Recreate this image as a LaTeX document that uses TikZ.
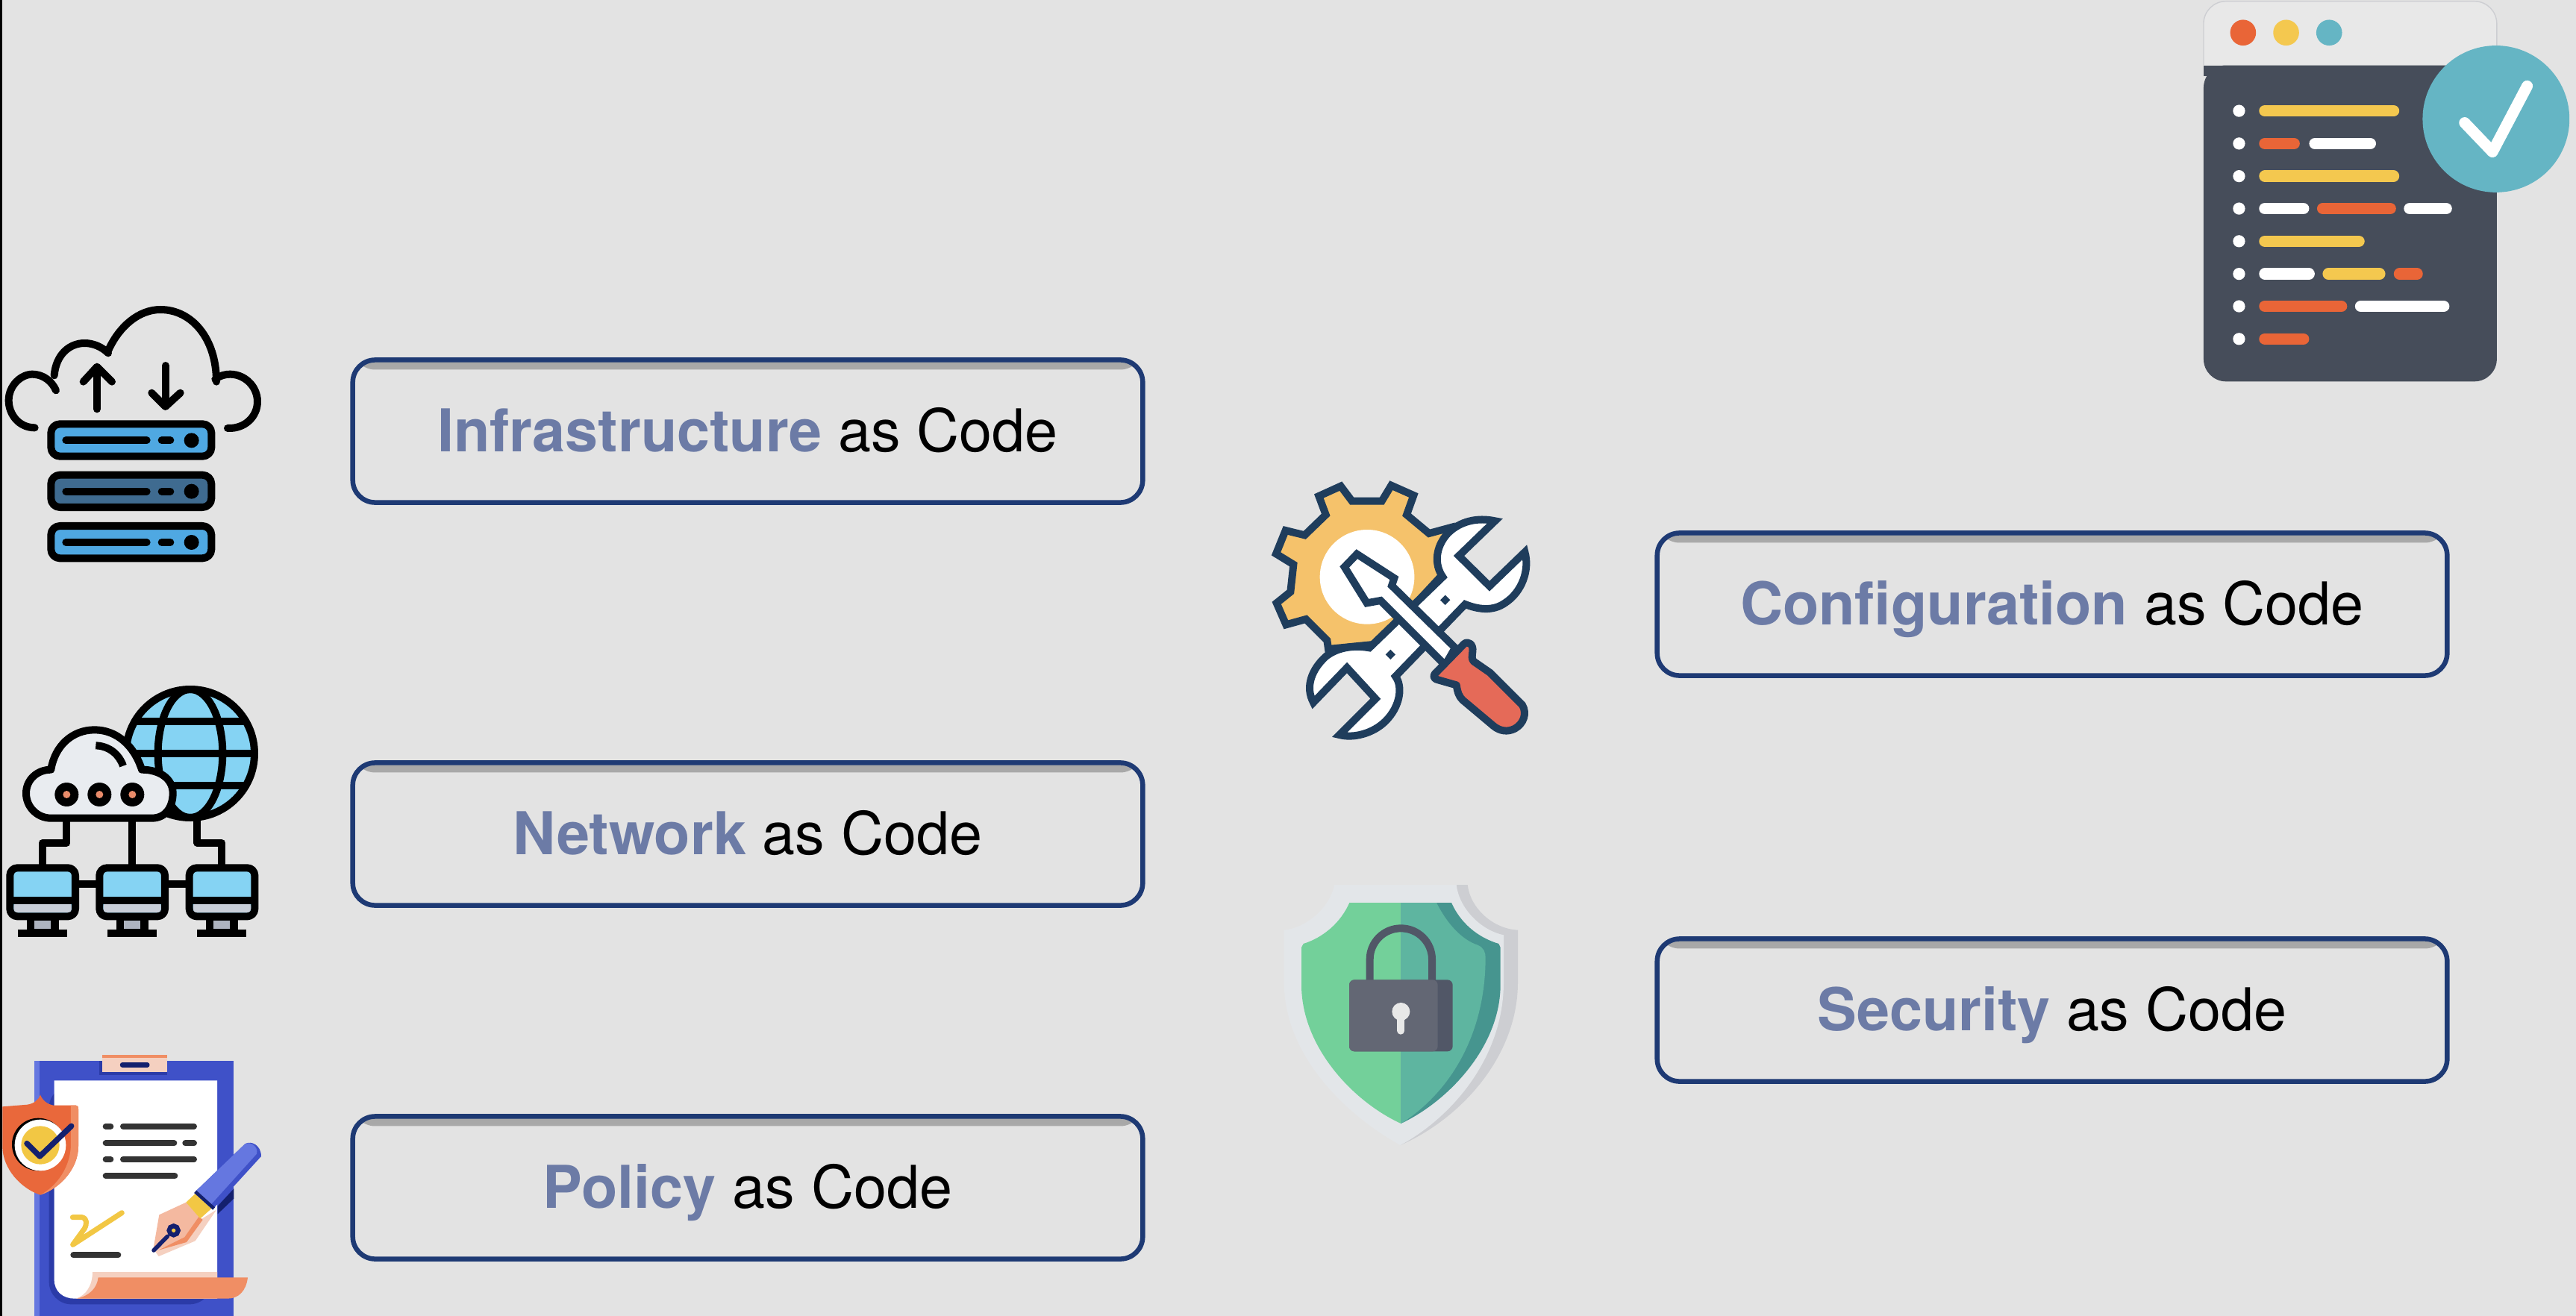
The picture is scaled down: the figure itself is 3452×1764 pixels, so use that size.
\documentclass[tikz,border=0pt]{standalone}
\usepackage{fontspec}
\setmainfont{TeX Gyre Heros}
\definecolor{bgcol}{HTML}{E3E3E3}
\definecolor{boxline}{HTML}{1E3A74}
\definecolor{wordblue}{HTML}{6C7BA6}
\definecolor{srvblue}{HTML}{4FA8E2}
\definecolor{srvdark}{HTML}{3F6B90}
\definecolor{skyblue}{HTML}{85D3F3}
\definecolor{cloudgrey}{HTML}{E9ECF0}
\definecolor{dotorange}{HTML}{E98B6A}
\definecolor{standgrey}{HTML}{AEB4C0}
\definecolor{basegrey}{HTML}{C9CED8}
\definecolor{boardblue}{HTML}{3F51C8}
\definecolor{boardlight}{HTML}{6577E0}
\definecolor{boarddark}{HTML}{2B3BA8}
\definecolor{peach}{HTML}{F5D0C0}
\definecolor{nibpeach}{HTML}{F4B9A0}
\definecolor{sheetorange}{HTML}{F08E64}
\definecolor{navy}{HTML}{14206E}
\definecolor{inkgrey}{HTML}{333333}
\definecolor{signyellow}{HTML}{F2C744}
\definecolor{shieldorange}{HTML}{E9683B}
\definecolor{gearline}{HTML}{1F3D5C}
\definecolor{gearyellow}{HTML}{F5C26B}
\definecolor{handlered}{HTML}{E56A58}
\definecolor{guardpale}{HTML}{E3E6E9}
\definecolor{guardshade}{HTML}{CDCED2}
\definecolor{guardgreen}{HTML}{73D09A}
\definecolor{guardteal}{HTML}{5EB5A0}
\definecolor{guarddark}{HTML}{46958F}
\definecolor{lockdark}{HTML}{515767}
\definecolor{locklight}{HTML}{636774}
\definecolor{winslate}{HTML}{464D5A}
\definecolor{winpale}{HTML}{E8E8E8}
\definecolor{winorange}{HTML}{E96537}
\definecolor{winyellow}{HTML}{F4C84F}
\definecolor{winteal}{HTML}{65B5C4}

\begin{document}
\begin{tikzpicture}[
  x=0.01cm, y=-0.01cm,
  codebox/.style={draw=boxline, line width=0.65mm, rounded corners=0.3cm, minimum width=10.58cm, minimum height=1.91cm,
    text height=0.58cm, text depth=0.04cm, inner sep=0pt, font=\fontsize{22.5}{27}\selectfont,
    path picture={\shade[top color=black!35, bottom color=bgcol] (path picture bounding box.north west) rectangle ([yshift=-0.13cm]path picture bounding box.north east);}},
  blackline/.style={draw=black, line width=1mm, line cap=round, line join=round},
  gearstroke/.style={draw=gearline, line width=1mm, line join=miter},
  barline/.style={line width=1.56mm, line cap=round},
]

% Background
\useasboundingbox (0,0) rectangle (3452,1764);
\fill[bgcol] (0,0) rectangle (3452,1764);
\fill[black] (0,0) rectangle (2.5,1764);

% Left column
\node[codebox] (infra)  at (1002,578)  {\textcolor{wordblue}{\textbf{Infrastructure}} as Code};
\node[codebox] (net)    at (1002,1118) {\textcolor{wordblue}{\textbf{Network}} as Code};
\node[codebox] (policy) at (1002,1592) {\textcolor{wordblue}{\textbf{Policy}} as Code};

% Right column
\node[codebox] (config) at (2750,810)  {\textcolor{wordblue}{\textbf{Configuration}} as Code};
\node[codebox] (secur)  at (2750,1354) {\textcolor{wordblue}{\textbf{Security}} as Code};

% Cloud with servers
\begin{scope}[shift={(0,380)}, scale=1/3]
  \draw[blackline] (140,580) .. controls (75,580) and (35,525) .. (35,470)
    .. controls (35,410) and (85,365) .. (130,365) .. controls (175,365) and (210,395) .. (225,430);
  \draw[blackline] (218,370) .. controls (225,285) and (280,240) .. (340,240) .. controls (375,240) and (410,255) .. (435,280);
  \draw[blackline] (435,270) .. controls (480,170) and (560,105) .. (645,105)
    .. controls (770,105) and (870,220) .. (870,395);
  \draw[blackline] (865,385) .. controls (885,370) and (905,365) .. (925,365)
    .. controls (985,365) and (1035,415) .. (1035,475) .. controls (1035,535) and (985,585) .. (915,582);
  \draw[blackline] (390,350) -- (390,505);
  \draw[blackline] (335,395) -- (390,335) -- (450,395);
  \draw[blackline] (665,330) -- (665,490);
  \draw[blackline] (610,440) -- (665,495) -- (725,440);
  \foreach \top/\col in {565/srvblue, 770/srvdark, 975/srvblue} {
    \draw[blackline, fill=\col, rounded corners=0.12cm] (205,\top) rectangle (850,\top+130);
    \draw[blackline] (265,\top+66) -- (590,\top+66);
    \draw[blackline] (650,\top+66) -- (685,\top+66);
    \fill[black] (770,\top+66) circle (30);
  }
\end{scope}

% Globe with cloud and monitors
\begin{scope}[shift={(0,900)}, scale=1/3]
  \draw[blackline, fill=skyblue] (765,330) circle (258);
  \draw[blackline] (765,330) ellipse (130 and 258);
  \draw[blackline, line cap=butt] (545,200) -- (985,200) (510,330) -- (1020,330) (545,460) -- (985,460);
  \draw[blackline] (268,600) -- (268,690) -- (170,690) -- (170,780);
  \draw[blackline] (530,600) -- (530,780);
  \draw[blackline] (793,600) -- (793,690) -- (892,690) -- (892,780);
  \draw[blackline, fill=cloudgrey] (205,590) -- (610,590) .. controls (670,590) and (695,540) .. (695,490)
    .. controls (695,430) and (640,395) .. (570,395) .. controls (540,300) and (470,235) .. (380,235)
    .. controls (290,235) and (220,300) .. (205,395) .. controls (150,395) and (105,435) .. (105,490)
    .. controls (105,545) and (150,590) .. (205,590) -- cycle;
  \draw[blackline, line cap=butt] (385,298) .. controls (440,300) and (480,335) .. (495,380);
  \foreach \dx in {268,400,532} {
    \fill[black] (\dx,495) circle (48);
    \fill[dotorange] (\dx,495) circle (15);
  }
  \draw[blackline] (303,855) -- (400,855) (663,855) -- (760,855);
  \foreach \dx in {0,360,721} {
    \begin{scope}[shift={(\dx,0)}]
      \fill[black] (108,990) rectangle (236,1040);
      \fill[standgrey] (138,1002) rectangle (204,1036);
      \draw[blackline, line cap=butt] (72,1052) -- (270,1052);
      \draw[blackline, fill=skyblue, rounded corners=0.1cm] (40,790) rectangle (303,985);
      \fill[basegrey, rounded corners=0.04cm] (56,930) rectangle (287,969);
      \draw[blackline, line cap=butt] (40,920) -- (303,920);
    \end{scope}
  }
\end{scope}

% Clipboard with shield and pen
\begin{scope}[shift={(0,1390)}, scale=1/3]
  \fill[boardblue] (138,95) rectangle (940,1122);
  \fill[boardlight] (138,95) rectangle (160,1122);
  \fill[boarddark] (398,95) rectangle (672,153);
  \fill[peach] (412,72) rectangle (672,140);
  \fill[sheetorange] (412,72) rectangle (672,84);
  \draw[line width=0.65mm, line cap=round, draw=navy] (492,112) -- (592,112);
  \fill[boarddark, rounded corners=0.3cm] (197,195) -- (197,1075) -- (852,1075) -- (852,195) -- cycle;
  \fill[white] (218,175) -- (218,975) .. controls (218,1025) and (255,1052) .. (300,1052) -- (873,1052) -- (873,175) -- cycle;
  % sheet text
  \foreach \ya/\xa/\xb in {359/425/445, 359/495/780, 427/425/700, 427/745/780, 492/425/445, 492/495/780, 559/425/703, 877/295/475}
    \draw[inkgrey, line width=0.8mm, line cap=round] (\xa,\ya) -- (\xb,\ya);
  \draw[signyellow, line width=0.7mm, line cap=round, line join=round] (292,725) -- (330,725)
    .. controls (350,730) and (350,750) .. (340,770) -- (293,835) -- (490,707);
  % sheet curl
  \fill[peach] (372,945) -- (873,945) -- (873,1052) -- (305,1052) .. controls (345,1040) and (372,1000) .. (372,945) -- cycle;
  \fill[sheetorange] (395,967) -- (996,967) .. controls (990,1020) and (960,1052) .. (915,1052) -- (310,1052)
    .. controls (360,1040) and (390,1010) .. (395,967) -- cycle;
  % pen
  \fill[navy] (875,680) -- (940,610) -- (940,650) -- (875,712) -- cycle;
  \fill[peach] (870,695) -- (785,820) -- (638,882) -- (622,860) -- (700,800) -- cycle;
  \fill[nibpeach] (748,665) -- (640,715) -- (615,860) -- (745,815) -- (805,725) -- cycle;
  \fill[sheetorange] (800,722) -- (815,735) -- (750,825) -- (635,858) -- (742,805) -- cycle;
  \fill[signyellow] (785,630) -- (850,690) -- (805,730) -- (748,665) -- cycle;
  \fill[boardblue] (785,622) -- (985,430) .. controls (1010,415) and (1050,435) .. (1050,480) -- (858,690) -- cycle;
  \fill[boardlight] (785,622) -- (985,430) .. controls (1005,418) and (1040,440) .. (1032,470) -- (850,672) -- cycle;
  \draw[navy, line width=0.45mm] (785,622) -- (860,690);
  \draw[navy, line width=0.7mm] (698,778) circle (17);
  \fill[signyellow] (698,778) circle (8);
  \draw[navy, line width=0.55mm, line cap=round] (618,858) -- (673,802);
  % badge
  \fill[shieldorange] (162,232) .. controls (170,255) and (190,270) .. (215,275) -- (305,275) .. controls (312,275) and (315,280) .. (315,290)
    -- (315,440) .. controls (315,530) and (240,610) .. (162,635) .. controls (85,610) and (10,530) .. (10,440)
    -- (10,280) -- (110,272) .. controls (135,268) and (155,255) .. (162,232) -- cycle;
  \fill[sheetorange] (285,275) -- (305,275) .. controls (312,275) and (315,280) .. (315,290) -- (315,440)
    .. controls (315,530) and (240,610) .. (162,635) .. controls (230,600) and (285,520) .. (285,430) -- cycle;
  \fill[black] (154,432) circle (106);
  \fill[white] (162,435) circle (103);
  \fill[signyellow] (162,435) circle (77);
  \draw[navy, line width=0.75mm, line cap=round, line join=round] (108,428) -- (160,480) -- (287,358);
\end{scope}

% Gear with wrench and screwdriver
\begin{scope}[shift={(1680,620)}, scale=1/3]
  \draw[gearstroke, fill=gearyellow] (262,135) -- (350,95) -- (395,155) -- (515,155) -- (553,92) -- (643,132) -- (615,210)
    -- (705,285) -- (790,262) -- (760,450) -- (500,730) -- (300,750) -- (295,715) -- (210,630) -- (130,652) -- (92,565) -- (148,520)
    -- (160,410) -- (90,367) -- (128,273) -- (205,292) -- (290,210) -- cycle;
  \fill[white] (456,460) circle (190);
  \draw[gearstroke, fill=white, line join=miter] (970,235) -- (825,375) -- (948,497) -- (1090,360)
    .. controls (1110,430) and (1080,520) .. (1010,565) .. controls (960,600) and (900,590) .. (850,570)
    -- (570,860) .. controls (600,900) and (590,980) .. (530,1040) .. controls (480,1090) and (400,1110) .. (345,1095)
    -- (490,950) -- (375,825) -- (240,965) .. controls (205,900) and (235,830) .. (290,780)
    .. controls (340,740) and (410,735) .. (465,745) -- (760,460) .. controls (725,410) and (730,340) .. (780,285)
    .. controls (830,235) and (900,220) .. (970,235) -- cycle;
  \fill[gearline] (770,533) -- (790,553) -- (770,573) -- (750,553) -- cycle;
  \fill[gearline] (550,752) -- (570,772) -- (550,792) -- (530,772) -- cycle;
  \draw[gearstroke, fill=white] (415,368) -- (565,465) -- (555,495) -- (810,745) -- (770,815) -- (510,555) -- (455,565) -- (365,420) -- cycle;
  \draw[gearstroke, fill=handlered, line join=round] (728,850) -- (845,730) .. controls (860,715) and (885,730) .. (880,760)
    .. controls (878,780) and (875,790) .. (885,800) -- (950,845) -- (1080,975) .. controls (1100,1010) and (1085,1050) .. (1050,1070)
    .. controls (1020,1085) and (990,1080) .. (965,1060) -- (840,955) .. controls (825,940) and (820,925) .. (815,895)
    -- (745,875) .. controls (725,872) and (720,860) .. (728,850) -- cycle;
\end{scope}

% Shield with lock
\begin{scope}[shift={(1680,1150)}, scale=1/3]
  \fill[guardshade] (815,108) -- (860,108) .. controls (870,200) and (960,285) .. (1062,290) -- (1062,500)
    .. controls (1062,800) and (830,1050) .. (590,1155) -- cycle;
  \fill[guardpale] (325,108) -- (815,108) .. controls (825,200) and (910,290) .. (1005,310) -- (1005,500)
    .. controls (1005,800) and (800,1040) .. (590,1155) .. controls (380,1040) and (122,800) .. (122,500)
    -- (122,290) .. controls (215,280) and (305,200) .. (325,108) -- cycle;
  \fill[guardgreen] (592,180) -- (385,180) .. controls (350,260) and (280,320) .. (200,345) -- (192,360) -- (192,510)
    .. controls (192,760) and (400,980) .. (592,1068) -- cycle;
  \fill[guarddark] (592,180) -- (795,180) .. controls (830,260) and (900,320) .. (985,345) -- (992,360) -- (992,510)
    .. controls (992,760) and (780,980) .. (592,1068) -- cycle;
  \fill[guardteal] (592,180) -- (735,180) .. controls (780,270) and (840,330) .. (900,350) .. controls (925,360) and (932,380) .. (932,400)
    .. controls (932,720) and (780,950) .. (592,1068) -- cycle;
  \draw[lockdark, line width=1mm] (467,495) -- (467,408) arc[start angle=180, end angle=360, radius=125] -- (717,495);
  \fill[lockdark, rounded corners=0.07cm] (384,490) rectangle (800,778);
  \fill[locklight, rounded corners=0.07cm] (384,490) rectangle (740,778);
  \fill[winpale] (592,618) circle (36);
  \draw[winpale, line width=1mm, line cap=round] (592,630) -- (592,695);
\end{scope}

% Code window with check mark
\begin{scope}[shift={(2920,0)}, scale=0.3393]
  \draw[guardshade, fill=winpale, rounded corners=0.3cm] (97,258) -- (97,5) -- (1255,5) -- (1255,258);
  \fill[winslate, rounded corners=0.3cm] (97,258) -- (97,1507) -- (1255,1507) -- (1255,258) -- cycle;
  \fill[winslate] (97,258) rectangle (1255,300);
  \foreach \dx/\col in {253/winorange, 423/winyellow, 593/winteal}
    \fill[\col] (\dx,129) circle (51);
  \foreach \ya in {438,567,696,824,953,1082,1210,1339}
    \fill[white] (237,\ya) circle (24);
  \foreach \ya/\xa/\xb/\col in {438/339/847/winyellow, 567/339/454/winorange, 567/537/755/white, 696/339/847/winyellow,
      824/339/491/white, 824/568/834/winorange, 824/911/1055/white, 953/339/710/winyellow,
      1082/339/513/white, 1082/590/792/winyellow, 1082/871/940/winorange,
      1210/339/641/winorange, 1210/718/1045/white, 1339/339/491/winorange}
    \draw[\col, barline] (\xa,\ya) -- (\xb,\ya);
  \fill[winteal] (1252,470) circle (290);
  \draw[white, line width=1.5mm, line cap=round, line join=round] (1128,485) -- (1238,600) -- (1375,340);
\end{scope}

\end{tikzpicture}
\end{document}
